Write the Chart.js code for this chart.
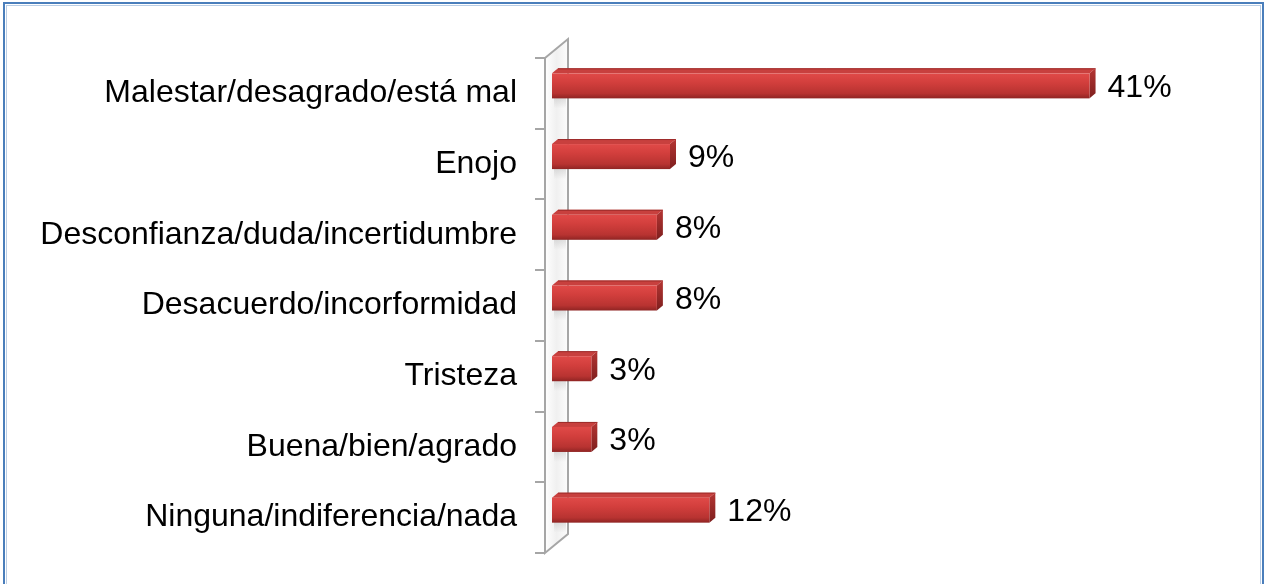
<!DOCTYPE html>
<html>
<head>
<meta charset="utf-8">
<script src="https://cdn.jsdelivr.net/npm/chart.js@4/dist/chart.umd.min.js"></script>
<style>
  html, body { margin: 0; padding: 0; background: #fff; }
  #wrap { position: relative; width: 1269px; height: 584px; }
</style>
</head>
<body>
<div id="wrap"><canvas id="chart_one" width="1269" height="584"></canvas></div>
<script>
var categories = [
  "Malestar/desagrado/está mal",
  "Enojo",
  "Desconfianza/duda/incertidumbre",
  "Desacuerdo/incorformidad",
  "Tristeza",
  "Buena/bien/agrado",
  "Ninguna/indiferencia/nada"
];
var percentValues = [41, 9, 8, 8, 3, 3, 12];
var valueLabels = ["41%", "9%", "8%", "8%", "3%", "3%", "12%"];

var FONT = "'Liberation Sans', Arial, sans-serif";
// fake 3d: wall depth, bar shift inside the wall, bar extrusion
var WALL_DX = 23, WALL_DY = -19;
var BAR_OX = 7, BAR_OY = -7.5;
var BAR_DX = 6, BAR_DY = -5;

var frame = {
  id: "frame",
  beforeDraw: function (chart) {
    var c = chart.ctx;
    c.save();
    c.fillStyle = "#fff";
    c.fillRect(0, 0, chart.width, chart.height);
    c.strokeStyle = "#4a7ebb";
    c.lineWidth = 2;
    c.strokeRect(4, 3, 1259, 620);
    c.strokeStyle = "#b9cde5";
    c.lineWidth = 1;
    c.strokeRect(6.5, 5.5, 1254, 620);
    c.restore();
  }
};

var wall = {
  id: "wall",
  beforeDatasetsDraw: function (chart) {
    var c = chart.ctx;
    var area = chart.chartArea;
    var l = area.left, t = area.top, b = area.bottom;
    c.save();
    var g = c.createLinearGradient(l, 0, l + WALL_DX, 0);
    g.addColorStop(0, "#ffffff");
    g.addColorStop(0.5, "#f0f0f0");
    g.addColorStop(1, "#fcfcfc");
    c.fillStyle = g;
    c.beginPath();
    c.moveTo(l, t);
    c.lineTo(l + WALL_DX, t + WALL_DY);
    c.lineTo(l + WALL_DX, b + WALL_DY);
    c.lineTo(l, b);
    c.closePath();
    c.fill();
    c.strokeStyle = "#a6a6a6";
    c.lineWidth = 2;
    c.stroke();
    // category separators as ticks on the front edge
    var n = categories.length;
    var step = (b - t) / n;
    c.beginPath();
    for (var i = 0; i <= n; i++) {
      var yy = Math.round(t + i * step);
      c.moveTo(l - 10, yy);
      c.lineTo(l, yy);
    }
    c.stroke();
    c.restore();
  }
};

var bars3d = {
  id: "bars3d",
  afterDatasetsDraw: function (chart) {
    var c = chart.ctx;
    var meta = chart.getDatasetMeta(0);
    c.save();
    meta.data.forEach(function (bar, i) {
      var p = bar.getProps(["x", "y", "base", "height"], true);
      var x0 = p.base + BAR_OX, x1 = p.x + BAR_OX;
      var yt = p.y - p.height / 2 + BAR_OY, yb = p.y + p.height / 2 + BAR_OY;

      // soft shadow on the wall behind the bar
      var gs = c.createLinearGradient(0, yt - 4, 0, yb + 10);
      gs.addColorStop(0, "rgba(160,160,160,0)");
      gs.addColorStop(0.6, "rgba(160,160,160,0.45)");
      gs.addColorStop(1, "rgba(160,160,160,0)");
      c.fillStyle = gs;
      c.fillRect(chart.chartArea.left + 9, yt - 4, 12, yb - yt + 14);

      // top face
      c.fillStyle = "#c8403e";
      c.beginPath();
      c.moveTo(x0, yt);
      c.lineTo(x0 + BAR_DX, yt + BAR_DY);
      c.lineTo(x1 + BAR_DX, yt + BAR_DY);
      c.lineTo(x1, yt);
      c.closePath();
      c.fill();
      c.strokeStyle = "#9c2b2a";
      c.lineWidth = 1;
      c.beginPath();
      c.moveTo(x0 + BAR_DX, yt + BAR_DY + 0.5);
      c.lineTo(x1 + BAR_DX, yt + BAR_DY + 0.5);
      c.stroke();

      // end cap
      var gc = c.createLinearGradient(0, yt + BAR_DY, 0, yb);
      gc.addColorStop(0, "#b53533");
      gc.addColorStop(1, "#7e1f1e");
      c.fillStyle = gc;
      c.beginPath();
      c.moveTo(x1, yt);
      c.lineTo(x1 + BAR_DX, yt + BAR_DY);
      c.lineTo(x1 + BAR_DX, yb + BAR_DY);
      c.lineTo(x1, yb);
      c.closePath();
      c.fill();

      // front face
      var gf = c.createLinearGradient(0, yt, 0, yb);
      gf.addColorStop(0, "#e04a48");
      gf.addColorStop(0.35, "#d33f3d");
      gf.addColorStop(0.8, "#b83331");
      gf.addColorStop(1, "#8f2423");
      c.fillStyle = gf;
      c.fillRect(x0, yt, x1 - x0, yb - yt);

      // value label
      c.fillStyle = "#000";
      c.font = "32px " + FONT;
      c.textAlign = "left";
      c.textBaseline = "middle";
      c.fillText(valueLabels[i], x1 + BAR_DX + 12, (yt + yb) / 2 + 2);
    });
    c.restore();
  }
};

var barGraph = document.getElementById("chart_one").getContext("2d");
var emotionChart = new Chart(barGraph, {
  type: "bar",
  data: {
    labels: categories,
    datasets: [
      {
        label: "Porcentaje",
        data: percentValues,
        backgroundColor: "rgba(0,0,0,0)",
        borderWidth: 0,
        barPercentage: 0.354,
        categoryPercentage: 1
      }
    ]
  },
  options: {
    indexAxis: "y",
    responsive: false,
    animation: false,
    layout: {
      padding: { left: 0, right: 134, top: 58, bottom: 31 }
    },
    scales: {
      x: {
        display: false,
        min: 0,
        max: 45
      },
      y: {
        grid: { display: false, drawTicks: false },
        border: { display: false },
        ticks: {
          color: "#000",
          padding: 28,
          font: { family: FONT, size: 32 }
        },
        afterFit: function (scale) {
          scale.width = 545;
          // tick padding would otherwise also pad the axis ends
          scale.paddingTop = 0;
          scale.paddingBottom = 0;
        }
      }
    },
    plugins: {
      legend: { display: false },
      tooltip: { enabled: false }
    }
  },
  plugins: [frame, wall, bars3d]
});
</script>
</body>
</html>
